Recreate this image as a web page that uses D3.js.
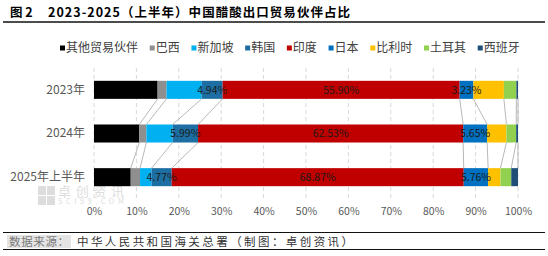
<!DOCTYPE html>
<html>
<head>
<meta charset="utf-8">
<script src="https://cdn.jsdelivr.net/npm/d3@7"></script>
<style>
  body { margin: 0; background: #fff; }
  text { font-family: "Noto Sans CJK SC", "Noto Sans", sans-serif; }
</style>
</head>
<body>
<div id="chart"></div>
<script>
// data (percent of export volume)
const years = ['2023年', '2024年', '2025年上半年']
const partners = ['其他贸易伙伴', '巴西', '新加坡', '韩国', '印度', '日本', '比利时', '土耳其', '西班牙']
const otherVals = [15.0, 10.7, 8.66]
const brazilVals = [2.1, 1.65, 2.2]
const singaporeVals = [8.3, 6.2, 2.7]
const koreaVals = [4.94, 5.99, 4.77]
const indiaVals = [55.90, 62.53, 68.87]
const japanVals = [3.23, 5.65, 5.76]
const belgiumVals = [7.2, 4.55, 2.9]
const turkeyVals = [2.95, 2.3, 2.55]
const spainVals = [0.38, 0.43, 1.59]
const tickVals = [0, 0.1, 0.2, 0.3, 0.4, 0.5, 0.6, 0.7, 0.8, 0.9, 1]
const labelled = ['韩国', '印度', '日本']

const colors = ['#000000', '#8f8f8f', '#00b0f0', '#1d6fa3', '#c00000', '#0070c0', '#ffc000', '#92d050', '#1f4e79']

const seriesVals = [otherVals, brazilVals, singaporeVals, koreaVals, indiaVals, japanVals, belgiumVals, turkeyVals, spainVals]
const rows = years.map((y, i) => {
  const r = { year: y }
  partners.forEach((p, j) => { r[p] = seriesVals[j][i] / 100 })
  return r
})

const width = 548, height = 256
const svg = d3.select('#chart').append('svg')
  .attr('width', width)
  .attr('height', height)

// title
svg.append('text')
  .attr('x', 10).attr('y', 17)
  .attr('font-size', 12.5).attr('font-weight', 'bold').attr('fill', '#000')
  .text('图 2')
svg.append('text')
  .attr('x', 48).attr('y', 17)
  .attr('font-size', 12.5).attr('font-weight', 'bold').attr('fill', '#000')
  .attr('textLength', 302).attr('lengthAdjust', 'spacing')
  .text('2023-2025（上半年）中国醋酸出口贸易伙伴占比')
svg.append('line')
  .attr('x1', 3).attr('x2', 545).attr('y1', 22).attr('y2', 22)
  .attr('stroke', '#111').attr('stroke-width', 1.5)

// scales
const x = d3.scaleLinear().domain([0, 1]).range([94, 518])
const y = d3.scaleBand().domain(years).range([68, 199])
  .paddingInner(0.587).paddingOuter(0.2935)
const bw = y.bandwidth()

const stack = d3.stack().keys(partners)(rows)

// grid
const grid = svg.append('g').attr('class', 'grid')
grid.selectAll('line')
  .data(tickVals)
  .join('line')
  .attr('x1', d => x(d)).attr('x2', d => x(d))
  .attr('y1', 68).attr('y2', 199)
  .attr('stroke', '#d9d9d9')
  .attr('stroke-dasharray', '4,3')

// watermark
const wm = svg.append('g').attr('opacity', 0.5)
const sq = [[0, 0], [1, 0], [0, 1], [1, 1]]
wm.selectAll('rect')
  .data(sq)
  .join('rect')
  .attr('x', d => 38 + d[0] * 9).attr('y', d => 186 + d[1] * 10)
  .attr('width', 8).attr('height', 9)
  .attr('fill', '#bdbdbd')
wm.append('text')
  .attr('x', 58).attr('y', 196)
  .attr('font-size', 13).attr('fill', '#bdbdbd')
  .attr('textLength', 66).attr('lengthAdjust', 'spacing')
  .text('卓创资讯')
wm.append('text')
  .attr('x', 58).attr('y', 204)
  .attr('font-size', 7.5).attr('fill', '#bdbdbd')
  .attr('font-family', 'Liberation Serif, serif')
  .attr('textLength', 66).attr('lengthAdjust', 'spacing')
  .text('SCI99.COM')

// series lines between bars
const links = []
stack.forEach(layer => {
  for (let i = 0; i < years.length - 1; i++) {
    links.push({ a: layer[i][1], b: layer[i + 1][1], y0: years[i], y1: years[i + 1] })
  }
})
svg.append('g').selectAll('line')
  .data(links)
  .join('line')
  .attr('x1', d => x(d.a)).attr('y1', d => y(d.y0) + bw)
  .attr('x2', d => x(d.b)).attr('y2', d => y(d.y1))
  .attr('stroke', '#a6a6a6').attr('stroke-width', 0.8)

// bars
const layers = svg.append('g').selectAll('g')
  .data(stack)
  .join('g')
  .attr('fill', (d, i) => colors[i])
layers.selectAll('rect')
  .data(d => d)
  .join('rect')
  .attr('x', d => x(d[0]))
  .attr('y', d => y(d.data.year))
  .attr('width', d => x(d[1]) - x(d[0]))
  .attr('height', bw)

// data labels
const lab = []
stack.forEach(layer => {
  if (!labelled.includes(layer.key)) return
  layer.forEach(d => lab.push({ v: d[1] - d[0], mid: (d[0] + d[1]) / 2, year: d.data.year }))
})
svg.append('g').selectAll('text')
  .data(lab)
  .join('text')
  .attr('x', d => x(d.mid))
  .attr('y', d => y(d.year) + bw / 2)
  .attr('dy', '0.35em')
  .attr('text-anchor', 'middle')
  .attr('font-family', 'Liberation Mono, monospace')
  .attr('font-size', 10.5)
  .attr('fill', '#1a1a1a')
  .text(d => (d.v * 100).toFixed(2) + '%')

// y axis labels
const yAxis = d3.axisLeft(y).tickSize(0).tickPadding(9)
svg.append('g')
  .attr('transform', 'translate(94,0)')
  .call(yAxis)
  .call(g => g.select('.domain').remove())
  .selectAll('text')
  .attr('font-size', 12).attr('fill', '#595959')
  .attr('font-family', '"Noto Sans CJK SC", sans-serif')

// x axis labels
const xAxis = d3.axisBottom(x).tickValues(tickVals).tickFormat(d3.format('.0%')).tickSize(0).tickPadding(9)
svg.append('g')
  .attr('transform', 'translate(0,199)')
  .call(xAxis)
  .call(g => g.select('.domain').remove())
  .selectAll('text')
  .attr('font-size', 10.5).attr('fill', '#595959')
  .attr('font-family', '"Noto Sans CJK SC", sans-serif')

// legend
const legend = svg.append('g').attr('class', 'legend')
let lx = 60
partners.forEach((p, i) => {
  legend.append('rect')
    .attr('x', lx).attr('y', 45.5)
    .attr('width', 5).attr('height', 5)
    .attr('fill', colors[i])
  const t = legend.append('text')
    .attr('x', lx + 6).attr('y', 48)
    .attr('dy', '0.35em')
    .attr('font-size', 12).attr('fill', '#404040')
    .text(p)
  lx += 6 + t.node().getComputedTextLength() + 11.7
})

// footer
svg.append('line')
  .attr('x1', 3).attr('x2', 545).attr('y1', 232.5).attr('y2', 232.5)
  .attr('stroke', '#111').attr('stroke-width', 1)
svg.append('line')
  .attr('x1', 3).attr('x2', 545).attr('y1', 249.5).attr('y2', 249.5)
  .attr('stroke', '#111').attr('stroke-width', 1)
svg.append('rect')
  .attr('x', 7).attr('y', 235).attr('width', 64).attr('height', 13)
  .attr('fill', '#e4e4e4')
svg.append('text')
  .attr('x', 9).attr('y', 241.5).attr('dy', '0.35em')
  .attr('font-size', 11.5).attr('fill', '#7a7a7a')
  .attr('textLength', 60).attr('lengthAdjust', 'spacing')
  .text('数据来源：')
svg.append('text')
  .attr('x', 77).attr('y', 241.5).attr('dy', '0.35em')
  .attr('font-size', 11.5).attr('fill', '#333')
  .attr('textLength', 276).attr('lengthAdjust', 'spacing')
  .text('中华人民共和国海关总署（制图：卓创资讯）')
</script>
</body>
</html>
